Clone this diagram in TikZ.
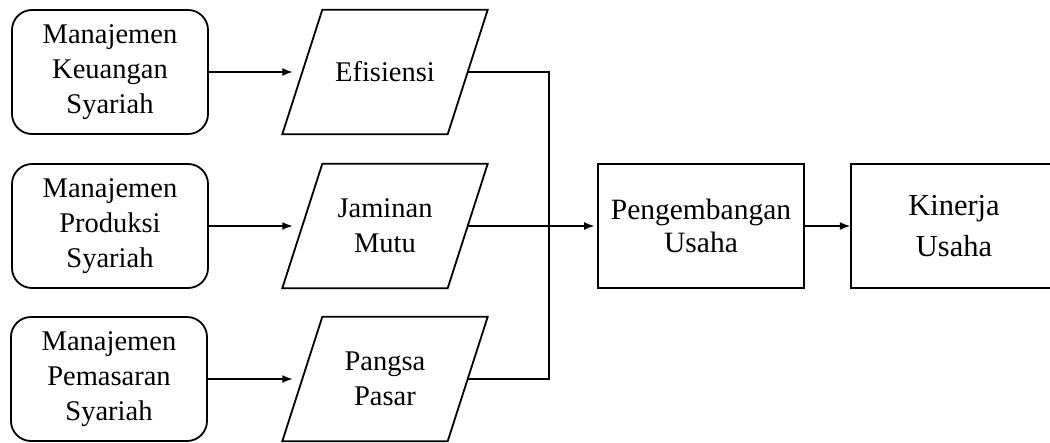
\documentclass[tikz,border=0pt]{standalone}
\usepackage{fontspec}
\setmainfont{Liberation Serif}
\usetikzlibrary{arrows.meta,calc}

\tikzset{
  txt/.style={font=\fontsize{28.5}{35}\selectfont, align=center},
  srcbox/.style={txt, draw, line width=1.8pt, rounded corners=20pt,
    minimum width=196pt, minimum height=124pt, inner sep=0pt},
  parabox/.style={txt, minimum width=165pt, minimum height=124pt, inner sep=0pt},
  resbox/.style={minimum width=206pt, minimum height=124pt,
    inner sep=0pt, align=center},
  outline/.style={line width=1.8pt, line join=miter},
  link/.style={line width=2.7pt},
  flow/.style={link, -{Latex[length=11pt,width=8pt]}},
}

\begin{document}
\begin{tikzpicture}[x=1pt,y=-1pt]
  \useasboundingbox (0,0) rectangle (1050,442);

  % management sources
  \node[srcbox] (m1) at (110,72)  {Manajemen\\Keuangan\\Syariah};
  \node[srcbox] (m2) at (110,226) {Manajemen\\Produksi\\Syariah};
  \node[srcbox] (m3) at (109,379) {Manajemen\\Pemasaran\\Syariah};

  % intermediate outcomes (parallelograms)
  \node[parabox] (p1) at (385,72)  {Efisiensi};
  \node[parabox] (p2) at (385,226) {Jaminan\\Mutu};
  \node[parabox] (p3) at (385,379) {Pangsa\\Pasar};
  \foreach \n in {p1,p2,p3}
    \draw[outline]
      ([xshift=20pt]\n.north west) -- ([xshift=20pt]\n.north east)
      -- ([xshift=-20pt]\n.south east) -- ([xshift=-20pt]\n.south west) -- cycle;

  % results
  \node[resbox, draw, outline, font=\fontsize{29.5}{33}\selectfont] (dev) at (701,226) {Pengembangan\\Usaha};
  \node[resbox, font=\fontsize{30.5}{41}\selectfont] (kin) at (954,226) {Kinerja\\Usaha};
  \draw[outline] (kin.north west) rectangle ([xshift=30pt]kin.south east);

  % connectors
  \coordinate (j) at (549,226);
  \foreach \a/\b in {m1/p1, m2/p2, m3/p3}
    \draw[flow, shorten >=9pt] (\a.east) -- (\b.west);
  \draw[link, line join=miter] (p1.east) -| (j);
  \draw[link, line join=miter] (p3.east) -| (j);
  \draw[flow, shorten >=2pt] (p2.east) -- (dev.west);
  \draw[flow] (dev.east) -- (kin.west);
\end{tikzpicture}
\end{document}
